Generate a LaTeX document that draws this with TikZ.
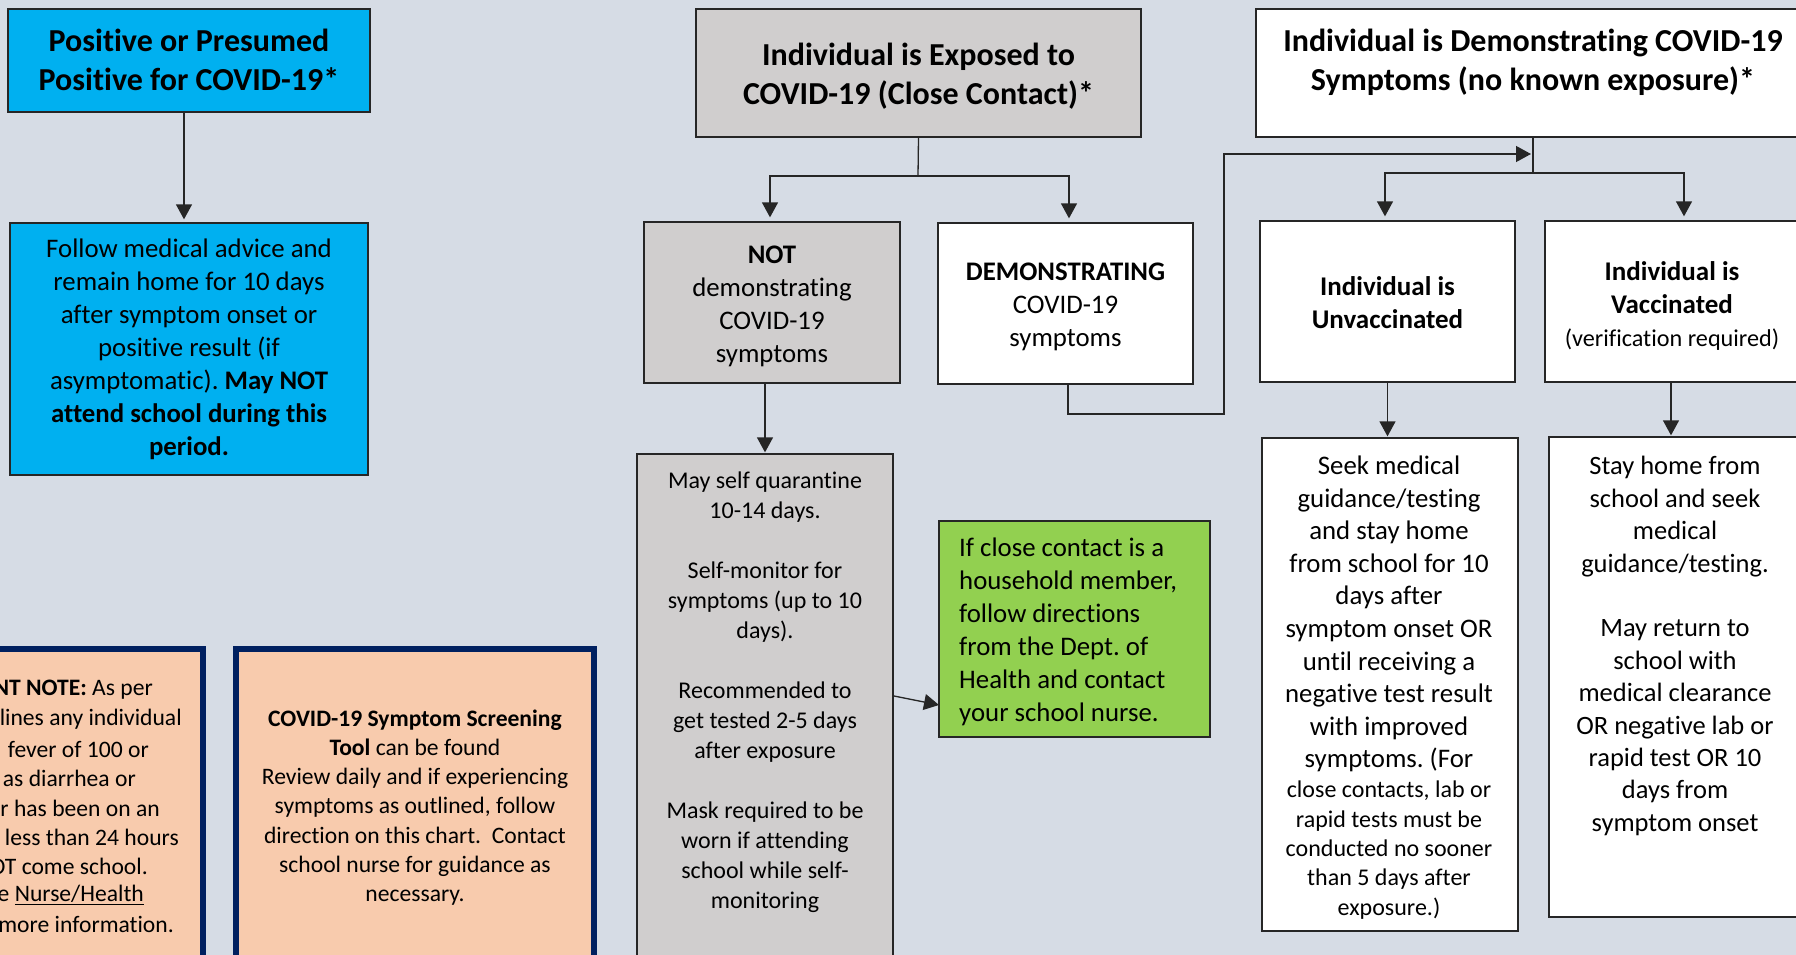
\documentclass[tikz,border=0pt]{standalone}
\usepackage{fontspec}
\setmainfont{Carlito}[Ligatures={NoCommon}]
\usetikzlibrary{arrows.meta,calc}
\definecolor{bgc}{HTML}{D6DCE5}
\definecolor{grayc}{HTML}{D0CECE}
\definecolor{bluec}{HTML}{00B0F0}
\definecolor{greenc}{HTML}{92D050}
\definecolor{peachc}{HTML}{F8CBAD}
\definecolor{navyc}{HTML}{002060}
\frenchspacing
\begin{document}
\begin{tikzpicture}[x=1pt,y=-1pt,
  box/.style={draw=black!85, line width=1.3pt, inner sep=0pt, rectangle, align=center},
  notebox/.style={draw=navyc, line width=6pt, fill=peachc, inner sep=0pt, rectangle},
  ttl/.style={font=\fontsize{32}{39}\selectfont\bfseries, align=center, inner sep=0pt},
  body/.style={font=\fontsize{26.8}{33}\selectfont, align=center, inner sep=0pt},
  mid/.style={font=\fontsize{24}{30}\selectfont, align=center, inner sep=0pt},
  small/.style={font=\fontsize{24}{29.4}\selectfont, align=center, inner sep=0pt},
  note/.style={font=\fontsize{23.6}{29.2}\selectfont, align=center, inner sep=0pt},
  arr/.style={-{Triangle[width=16pt,length=15pt]}, line width=1.3pt, draw=black!85},
  con/.style={line width=1.3pt, draw=black!85}
]
\path[use as bounding box] (0,0) rectangle (1796,955);
\clip (0,0) rectangle (1796,955);
\fill[bgc] (0,0) rectangle (1796,955);

% Left column
\node[box, fill=bluec, minimum width=362pt, minimum height=103pt] (A) at (189,60.5) {};
\node[ttl] (At) at (189,60) {Positive or Presumed\\Positive for COVID-19*};
\node[box, fill=bluec, minimum width=358pt, minimum height=252pt] (B) at (189,349) {};
\node[body] (Bt) at (189,349)
  {Follow medical advice and\\remain home for 10 days\\after symptom onset or\\positive result (if\\asymptomatic). \textbf{May NOT}\\\textbf{attend school during this}\\\textbf{period.}};
\draw[arr] ([xshift=-5pt]A.south) -- ([xshift=-5pt,yshift=3pt]B.north);

% Exposed column
\node[box, fill=grayc, minimum width=445pt, minimum height=128pt] (C) at (918.5,73) {};
\node[ttl] (Ct) at (918.5,76) {Individual is Exposed to\\COVID-19 (Close Contact)*};
\node[box, fill=grayc, minimum width=256pt, minimum height=161pt] (D) at (772,302.5) {};
\node[body] (Dt) at (772,306) {\textbf{NOT}\\demonstrating\\COVID-19\\symptoms};
\node[box, fill=white, minimum width=255pt, minimum height=161pt] (E) at (1065.5,303.5) {};
\node[body] (Et) at (1065.5,306.5) {\textbf{DEMONSTRATING}\\COVID-19\\symptoms};
\coordinate (cj) at (918,176);
\draw[con] (C.south) -- (cj);
\draw[arr] (cj) -| ([xshift=-2pt,yshift=4pt]D.north);
\draw[arr] (cj) -| ([xshift=3.5pt,yshift=4pt]E.north);

\node[box, fill=grayc, minimum width=256pt, minimum height=546pt] (K) at (765,727) {};
\node[mid] (Kt) at (765,692)
  {May self quarantine\\10-14 days.\\[30pt]Self-monitor for\\symptoms (up to 10\\days).\\[30pt]Recommended to\\get tested 2-5 days\\after exposure\\[30pt]Mask required to be\\worn if attending\\school while self-\\monitoring};
\draw[arr] (K.north |- D.south) -- ([yshift=1pt]K.north);

\node[box, fill=greenc, minimum width=271pt, minimum height=216pt] (L) at (1074.5,629) {};
\node[body, align=left, anchor=west] (Lt) at (959,632)
  {If close contact is a\\household member,\\follow directions\\from the Dept. of\\Health and contact\\your school nurse.};
\coordinate (kout) at (894,696);
\coordinate (lin) at (939,705);
\draw[arr] (kout) -- (lin);

% Symptoms column
\node[box, fill=white, minimum width=554pt, minimum height=128pt] (F) at (1533,73) {};
\node[ttl] (Ft) at (1533,62) {Individual is Demonstrating COVID-19\\Symptoms (no known exposure)*};
\node[box, fill=white, minimum width=255pt, minimum height=161pt] (G) at (1387.5,301.5) {};
\node[body, font=\fontsize{27}{33}\selectfont\bfseries] (Gt) at (1387.5,303) {Individual is\\Unvaccinated};
\node[box, fill=white, minimum width=254pt, minimum height=161pt] (H) at (1672,301.5) {};
\node[body, font=\fontsize{27}{33}\selectfont] (Ht) at (1672,306)
  {\textbf{Individual is}\\\textbf{Vaccinated}\\{\fontsize{24.2}{30}\selectfont(verification required)}};
\coordinate (fj) at (1533,173);
\draw[con] (F.south) -- (fj);
\draw[arr] (fj) -| ([xshift=-2.5pt,yshift=4pt]G.north);
\draw[arr] (fj) -| ([xshift=12pt,yshift=4pt]H.north);

\coordinate (e1) at (1224,414);
\coordinate (fin) at (1531,154);
\draw[arr] ([xshift=2.5pt]E.south) |- (e1) |- (fin);

\node[box, fill=white, minimum width=256pt, minimum height=493pt] (I) at (1390,684.5) {};
\node[body, font=\fontsize{26.8}{32.6}\selectfont] (It1) at (1389,614)
  {Seek medical\\guidance/testing\\and stay home\\from school for 10\\days after\\symptom onset OR\\until receiving a\\negative test result\\with improved\\symptoms. (For};
\node[small] (It2) at (1389,850)
  {close contacts, lab or\\rapid tests must be\\conducted no sooner\\than 5 days after\\exposure.)};
\node[box, fill=white, minimum width=252pt, minimum height=480pt] (J) at (1675,677) {};
\node[body, font=\fontsize{26.5}{32.4}\selectfont] (Jt) at (1675,646)
  {Stay home from\\school and seek\\medical\\guidance/testing.\\[32.4pt]May return to\\school with\\medical clearance\\OR negative lab or\\rapid test OR 10\\days from\\symptom onset};
\draw[arr] (G.south) -- ([yshift=1pt]G.south |- I.north);
\draw[arr] ([xshift=-1pt]H.south) -- ([xshift=-1pt,yshift=1pt]H.south |- J.north);

% Notes
\node[notebox, minimum width=263pt, minimum height=351pt] (M) at (71.5,824.5) {};
\node[note, anchor=east] (m1) at (153,690) {\textbf{NT NOTE:} As per};
\node[note, anchor=east] (m2) at (182,719) {lines any individual};
\node[note, anchor=east] (m3) at (149,749) {fever of 100 or};
\node[note, anchor=east] (m4) at (136,778) {as diarrhea or};
\node[note, anchor=east] (m5) at (160,808) {r has been on an};
\node[note, anchor=east] (m6) at (179,837) {less than 24 hours};
\node[note, anchor=east] (m7) at (148,866) {OT come school.};
\node[note, anchor=east] (m8) at (144,895) {e \underline{Nurse/Health}};
\node[note, anchor=east] (m9) at (174,924) {more information.};

\node[notebox, minimum width=358pt, minimum height=351pt] (N) at (415,824.5) {};
\node[note] (Nt) at (415,807.5)
  {\textbf{COVID-19 Symptom Screening}\\\textbf{Tool} can be found\\Review daily and if experiencing\\symptoms as outlined, follow\\direction on this chart.\ \ Contact\\school nurse for guidance as\\necessary.};
\end{tikzpicture}
\end{document}
